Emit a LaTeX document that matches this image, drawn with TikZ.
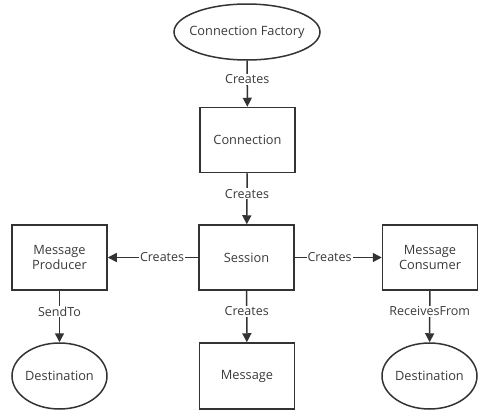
\documentclass[tikz,border=0pt]{standalone}
\usepackage{fontspec}
\setmainfont{Open Sans}
\usetikzlibrary{shapes.geometric,arrows.meta}
\definecolor{ln}{HTML}{333333}
\definecolor{tx}{HTML}{3a3a3a}
\tikzset{
  box/.style={draw=ln, line width=1.5pt, minimum width=95pt, minimum height=65pt, inner sep=0pt, align=center, text=tx, font=\fontsize{12.8}{15.5}\selectfont},
  ell/.style={draw=ln, line width=1.5pt, ellipse, minimum width=95pt, minimum height=66pt, inner sep=-12pt, align=center, text=tx, font=\fontsize{12.8}{15.5}\selectfont},
  conn/.style={draw=ln, line width=1.5pt, -{Triangle[length=9pt,width=9pt]}},
  lbl/.style={fill=white, text=tx, inner sep=1pt, pos=0.4, font=\fontsize{12.5}{14}\selectfont}
}
\begin{document}
\begin{tikzpicture}[x=1pt,y=-1pt]
\useasboundingbox (0,0) rectangle (488,418);
\node[ell, minimum width=146pt, minimum height=56pt] (cf) at (247,32) {Connection Factory};
\node[box] (c) at (247.5,140) {Connection};
\node[box] (s) at (246.5,257.5) {Session};
\node[box] (mp) at (59.5,257.5) {Message\\Producer};
\node[box] (mc) at (430,257.5) {Message\\Consumer};
\node[ell] (d1) at (59.5,376) {Destination};
\node[box, minimum height=66pt] (m) at (247,376) {Message};
\node[ell] (d2) at (429.5,376) {Destination};
\draw[conn] (cf) -- node[lbl]{Creates} (c);
\draw[conn] (c) -- node[lbl]{Creates} (s);
\draw[conn] (s) -- node[lbl]{Creates} (mp);
\draw[conn] (s) -- node[lbl]{Creates} (mc);
\draw[conn] (s) -- node[lbl]{Creates} (m);
\draw[conn] (mp) -- node[lbl]{SendTo} (d1);
\draw[conn] (mc) -- node[lbl]{ReceivesFrom} (d2);
\end{tikzpicture}
\end{document}
